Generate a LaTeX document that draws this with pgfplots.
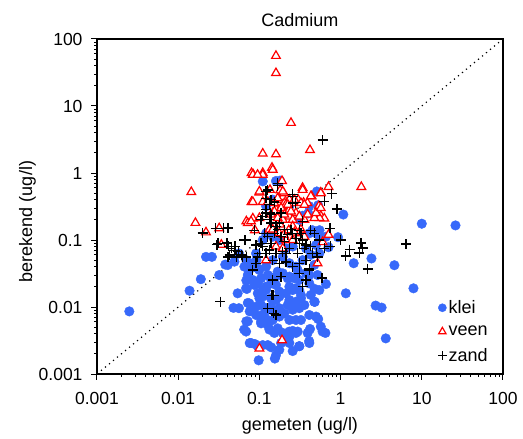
\documentclass[border=0pt]{standalone}
\usepackage{fontspec}
\setmainfont{Liberation Sans}
\usepackage{pgfplots}
\pgfplotsset{compat=1.18}
\definecolor{kleiblue}{RGB}{55,105,250}
\begin{document}
\begin{tikzpicture}
\path[use as bounding box] (-97pt,-65pt) rectangle (426pt,374pt);
\begin{axis}[
  at={(0,0)}, anchor=south west,
  scale only axis, width=406pt, height=335pt,
  xmode=log, ymode=log,
  xmin=0.001, xmax=100, ymin=0.001, ymax=100,
  xtick={0.001,0.01,0.1,1,10,100}, xticklabels={0.001,0.01,0.1,1,10,100},
  ytick={0.001,0.01,0.1,1,10,100}, yticklabels={0.001,0.01,0.1,1,10,100},
  minor tick num=0, minor xtick={}, minor ytick={},
  tick pos=left, tick align=outside, major tick length=6pt,
  axis line style={line width=1.2pt}, every tick/.style={line width=1pt, black},
  /pgf/number format/assume math mode=true,
  tick label style={font=\fontsize{17.5}{20}\selectfont},
  xticklabel style={yshift=-9pt},
  yticklabel style={xshift=-5pt},
  title={Cadmium}, title style={font=\fontsize{18}{21}\selectfont, yshift=3pt},
  xlabel={gemeten (ug/l)}, ylabel={berekend (ug/l)},
  label style={font=\fontsize{18}{21}\selectfont},
  xlabel style={yshift=-6pt}, ylabel style={yshift=-4pt, xshift=-15pt},
  legend style={at={(0.975,0.021)}, anchor=south east, draw=none, fill=none,
    font=\fontsize{18}{21}\selectfont, row sep=7pt,
    nodes={inner xsep=2pt}},
  legend cell align=left,
  legend image post style={scale=0.85},
  clip=false,
]
\addplot[only marks, mark=*, mark size=4.8pt, color=kleiblue, mark options={draw=kleiblue, fill=kleiblue}] table {
x y
0.0025 0.0086
0.0138 0.0175
0.019 0.026
0.032 0.030
0.038 0.043
0.022 0.056
0.026 0.056
0.048 0.0097
0.054 0.016
0.070 0.0186
0.072 0.0115
0.076 0.0086
0.069 0.0061
0.065 0.0046
0.076 0.0029
0.088 0.0028
0.11 0.0027
0.14 0.0025
0.098 0.0016
0.155 0.0017
0.31 0.0026
0.41 0.0031
0.42 0.0047
0.6 0.0043
0.65 0.0041
0.53 0.0066
0.48 0.0119
0.48 0.0186
0.66 0.022
1.16 0.016
1.45 0.045
2.4 0.053
2.7 0.0105
3.2 0.0098
3.6 0.0034
4.6 0.042
7.9 0.019
10 0.175
26 0.165
1.08 0.24
0.93 0.11
0.71 0.078
0.51 0.53
0.53 0.33
0.40 0.25
0.18 0.77
0.16 0.76
0.11 0.75
0.55 0.14
0.056 0.063
0.091 0.063
0.083 0.045
0.072 0.030
0.083 0.0253
0.1 0.0356
0.121 0.040
0.146 0.050
0.194 0.056
0.234 0.045
0.282 0.040
0.341 0.050
0.31 0.0253
0.257 0.0179
0.234 0.0127
0.282 0.012
0.325 0.0135
0.31 0.0179
0.213 0.016
0.176 0.017
0.16 0.0127
0.139 0.0101
0.121 0.0096
0.11 0.0076
0.105 0.0061
0.121 0.0057
0.133 0.0046
0.168 0.0048
0.194 0.0041
0.234 0.0036
0.257 0.0044
0.282 0.0041
0.213 0.0032
0.234 0.0029
0.185 0.0029
0.146 0.0064
0.176 0.0072
0.203 0.0080
0.234 0.0064
0.257 0.0091
0.16 0.0213
0.139 0.0225
0.121 0.0201
0.11 0.0179
0.1 0.0135
0.091 0.0101
0.0955 0.0225
0.133 0.0284
0.16 0.0284
0.194 0.0318
0.234 0.0284
0.282 0.0284
0.375 0.0318
0.412 0.0225
0.475 0.0425
0.43 0.060
0.547 0.063
0.498 0.084
0.375 0.075
0.257 0.080
0.213 0.075
0.11 0.1
0.121 0.126
0.146 0.112
0.176 0.1
0.412 0.126
0.498 0.126
0.66 0.112
0.547 0.112
0.121 0.32
0.146 0.40
0.234 0.32
0.31 0.2
0.41 0.32
0.45 0.14
0.34 0.23
0.075 0.0356
0.069 0.025
0.069 0.050
0.092 0.050
0.121 0.018
0.0408 0.0423
0.0686 0.019
0.0753 0.0113
0.056 0.0096
0.072 0.0061
0.0686 0.0043
0.079 0.0029
0.0955 0.0026
0.127 0.0027
0.16 0.0019
0.176 0.0023
0.257 0.0022
0.31 0.0026
0.412 0.0029
0.393 0.0041
0.296 0.0043
0.234 0.0043
0.203 0.0038
0.153 0.0041
0.127 0.0054
0.105 0.0057
0.091 0.0076
0.115 0.0080
0.139 0.0091
0.176 0.0096
0.223 0.0107
0.27 0.0101
0.31 0.0096
0.358 0.0107
0.475 0.012
0.547 0.0179
0.43 0.0151
0.325 0.0151
0.282 0.019
0.234 0.0201
0.176 0.0143
0.139 0.0135
0.11 0.0143
0.0955 0.016
0.0868 0.0213
0.105 0.0268
0.127 0.030
0.168 0.0337
0.223 0.0268
0.27 0.0268
0.296 0.0356
0.412 0.030
0.52 0.030
0.0955 0.0378
0.0654 0.040
0.0493 0.0475
0.498 0.0072
0.57 0.0051
0.412 0.0076
0.325 0.0064
0.282 0.0064
0.127 0.0064
0.105 0.0107
};
\addlegendentry{klei}
\addplot[only marks, mark=triangle*, mark size=5pt, color=red, mark options={draw=red, fill=white, line width=1.2pt}] table {
x y
0.16 56
0.16 31
0.245 5.6
0.42 2.2
0.11 1.95
0.16 1.9
0.143 1.2
0.08 1.0
0.084 0.95
0.11 1.0
0.0145 0.52
0.0163 0.18
0.022 0.13
0.032 0.15
0.034 0.085
1.8 0.62
0.71 0.62
0.34 0.6
0.44 0.45
0.57 0.51
0.54 0.32
0.51 0.23
0.57 0.23
0.63 0.21
0.71 0.12
0.6 0.093
0.52 0.045
0.19 0.0032
0.1 0.0024
0.35 0.36
0.3 0.4
0.19 0.76
0.135 0.56
0.1 0.51
0.08 0.37
0.11 0.37
0.069 0.19
0.083 0.21
0.088 0.14
0.176 0.40
0.194 0.44
0.203 0.356
0.185 0.30
0.213 0.253
0.16 0.284
0.234 0.225
0.257 0.201
0.282 0.253
0.325 0.143
0.257 0.16
0.194 0.201
0.146 0.253
0.133 0.143
0.176 0.126
0.213 0.1
0.257 0.1
0.31 0.126
0.358 0.112
0.16 0.08
0.194 0.075
0.121 0.05
0.146 0.143
0.257 0.356
0.234 0.40
0.213 0.34
0.234 0.284
0.39 0.356
0.55 0.213
0.072 0.179
0.358 0.201
0.31 0.225
0.2 0.5
0.18 0.55
0.083 0.94
0.11 0.94
0.146 1.12
0.341 0.56
0.43 0.45
0.57 0.50
0.1 0.53
0.083 0.37
0.127 0.37
0.168 0.42
0.185 0.30
0.224 0.336
0.27 0.40
0.325 0.356
0.358 0.336
0.203 0.24
0.153 0.267
0.139 0.24
0.245 0.267
0.168 0.213
0.1 0.213
0.079 0.19
0.393 0.24
0.475 0.213
0.498 0.253
0.57 0.30
0.153 0.356
0.194 0.53
0.095 0.94
0.2 0.12
0.23 0.14
0.27 0.13
0.18 0.17
};
\addlegendentry{veen}
\addplot[only marks, mark=+, mark size=5pt, color=black, mark options={line width=1.3pt}] table {
x y
0.6 3.1
0.78 0.49
0.63 0.38
0.9 0.29
0.74 0.15
1.0 0.1
0.75 0.08
1.3 0.072
1.16 0.058
1.78 0.09
1.87 0.076
1.7 0.064
2.15 0.037
6.4 0.087
0.59 0.027
0.34 0.0201
0.375 0.0253
0.31 0.0318
0.146 0.0253
0.185 0.0284
0.143 0.015
0.15 0.015
0.127 0.0096
0.15 0.008
0.16 0.0076
0.033 0.012
0.02 0.127
0.029 0.15
0.036 0.15
0.03 0.085
0.042 0.08
0.041 0.056
0.052 0.056
0.062 0.056
0.069 0.056
0.068 0.1
0.087 0.14
0.083 0.0356
0.091 0.045
0.0955 0.056
0.121 0.53
0.168 0.7
0.168 0.65
0.257 0.48
0.28 0.36
0.34 0.19
0.31 0.14
0.43 0.14
0.475 0.126
0.547 0.1
0.63 0.075
0.5 0.063
0.52 0.056
0.11 0.225
0.121 0.253
0.133 0.201
0.139 0.179
0.115 0.126
0.127 0.112
0.139 0.089
0.153 0.126
0.168 0.143
0.185 0.112
0.203 0.095
0.224 0.12
0.257 0.126
0.282 0.106
0.31 0.089
0.341 0.1
0.375 0.084
0.43 0.08
0.234 0.075
0.194 0.067
0.16 0.063
0.133 0.071
0.11 0.08
0.1 0.063
0.146 0.05
0.176 0.045
0.213 0.047
0.257 0.04
0.31 0.045
0.375 0.05
0.412 0.0356
0.295 0.063
0.213 0.063
0.121 0.284
0.133 0.336
0.139 0.40
0.153 0.37
0.136 0.253
0.16 0.16
0.203 0.143
0.245 0.143
0.325 0.126
0.358 0.075
0.45 0.063
0.121 0.063
0.105 0.089
0.091 0.084
0.185 0.253
0.176 0.179
0.04 0.09
0.045 0.075
0.05 0.07
0.055 0.068
0.06 0.06
0.031 0.089
0.41 0.037
0.127 0.56
0.257 0.45
0.257 0.356
0.121 0.42
0.139 0.24
0.105 0.201
0.041 0.151
0.065 0.1
0.05 0.08
0.043 0.06
};
\addlegendentry{zand}
\addplot[black, line width=1.2pt, dash pattern=on 1.2pt off 4pt, forget plot] coordinates {(0.001,0.001) (100,100)};
\end{axis}
\end{tikzpicture}
\end{document}
